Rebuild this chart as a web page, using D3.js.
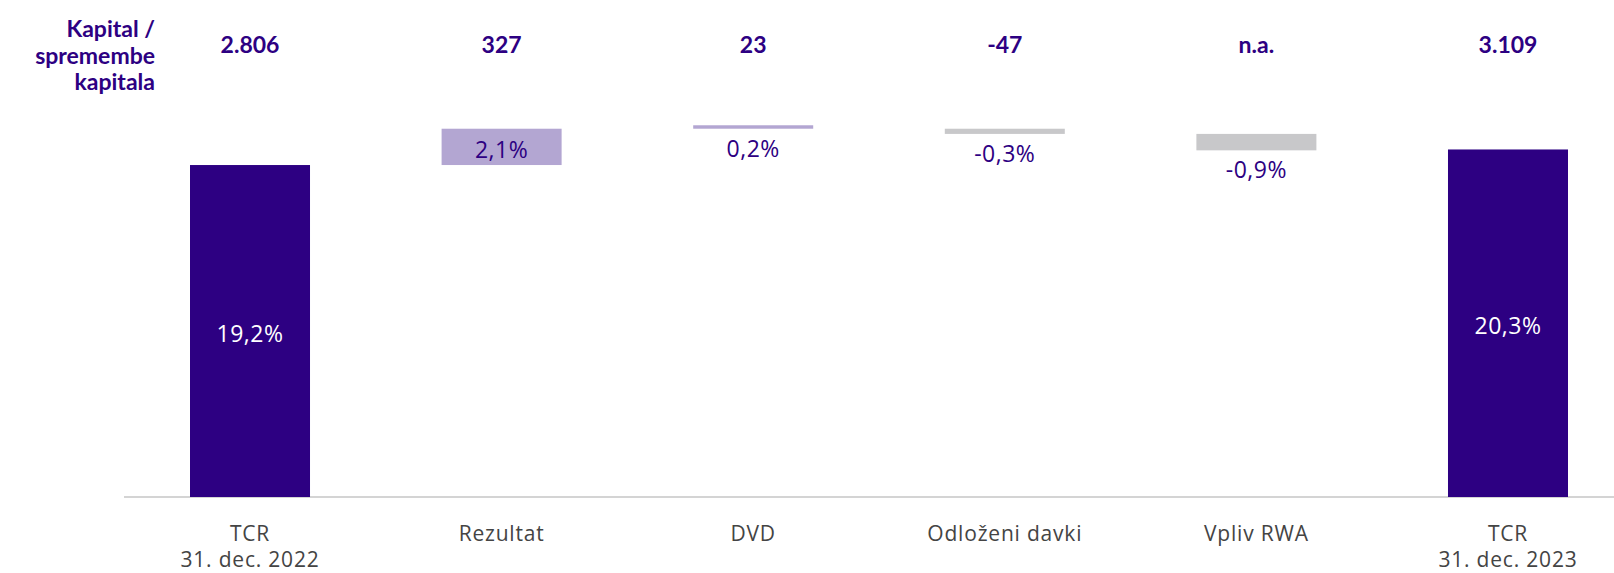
<!DOCTYPE html>
<html>
<head>
<meta charset="utf-8">
<script src="https://cdn.jsdelivr.net/npm/d3@7"></script>
<style>
  body { margin: 0; background: #fff; }
  svg { display: block; font-family: Lato, "Noto Sans", sans-serif; }
</style>
</head>
<body>
<div id="container"></div>
<script>
const width = 1614, height = 573;

// categories (line breaks with \n)
const categories = ["TCR\n31. dec. 2022", "Rezultat", "DVD", "Odloženi davki", "Vpliv RWA", "TCR\n31. dec. 2023"];
// capital / changes in capital (header row)
const capitalValues = ["2.806", "327", "23", "-47", "n.a.", "3.109"];
// TCR labels
const pctLabels = ["19,2%", "2,1%", "0,2%", "-0,3%", "-0,9%", "20,3%"];
// bar extents in % as drawn
const barFrom = [0, 19.2, 21.3, 21.3, 21.0, 0];
const barTo = [19.2, 21.3, 21.5, 21.0, 20.05, 20.1];
const barType = ["total", "up", "up", "down", "down", "total"];

const colors = { total: "#2d0082", up: "#b3a6d2", down: "#c8c8ca" };
const purple = "#2d0082";
const labelFont = "'Open Sans', 'Noto Sans', sans-serif";

const svg = d3.select("#container")
  .append("svg")
  .attr("width", width)
  .attr("height", height);

const x = d3.scaleBand()
  .domain(categories)
  .range([190, 1568])
  .paddingInner(0.523)
  .paddingOuter(0);

const y = d3.scaleLinear()
  .domain([0, 20])
  .range([497, 151.2]);

const bars = categories.map((c, i) => ({
  cat: c,
  lo: Math.min(barFrom[i], barTo[i]),
  hi: Math.max(barFrom[i], barTo[i]),
  type: barType[i],
  pct: pctLabels[i],
  cap: capitalValues[i]
}));

// baseline
svg.append("line")
  .attr("x1", 124).attr("x2", width)
  .attr("y1", y(0)).attr("y2", y(0))
  .attr("stroke", "#d4d4d4")
  .attr("stroke-width", 2);

svg.selectAll(".bar")
  .data(bars)
  .enter()
  .append("rect")
  .attr("class", "bar")
  .attr("x", d => x(d.cat))
  .attr("width", x.bandwidth())
  .attr("y", d => y(d.hi))
  .attr("height", d => y(d.lo) - y(d.hi))
  .attr("fill", d => colors[d.type]);

// percentage labels: inside tall bars, below thin ones
svg.selectAll(".pct")
  .data(bars)
  .enter()
  .append("text")
  .attr("class", "pct")
  .attr("x", d => x(d.cat) + x.bandwidth() / 2)
  .attr("y", d => {
    const h = y(d.lo) - y(d.hi);
    if (h > 30) return (y(d.lo) + y(d.hi)) / 2 + 11;
    return y(d.lo) + 28;
  })
  .attr("text-anchor", "middle")
  .attr("font-family", labelFont)
  .attr("font-size", 23)
  .attr("letter-spacing", 0.5)
  .attr("fill", d => d.type === "total" ? "#fff" : purple)
  .text(d => d.pct);

// header row
svg.selectAll(".cap")
  .data(bars)
  .enter()
  .append("text")
  .attr("class", "cap")
  .attr("x", d => x(d.cat) + x.bandwidth() / 2)
  .attr("y", 53)
  .attr("text-anchor", "middle")
  .attr("font-size", 23)
  .attr("font-weight", 700)
  .attr("fill", purple)
  .text(d => d.cap);

const title = svg.append("text")
  .attr("x", 155)
  .attr("y", 37)
  .attr("text-anchor", "end")
  .attr("font-size", 23)
  .attr("font-weight", 700)
  .attr("fill", purple);
["Kapital /", "spremembe", "kapitala"].forEach((t, i) => {
  title.append("tspan").attr("x", 155).attr("dy", i ? 26.5 : 0).text(t);
});

// category labels
const cat = svg.selectAll(".cat")
  .data(categories)
  .enter()
  .append("text")
  .attr("class", "cat")
  .attr("x", d => x(d) + x.bandwidth() / 2)
  .attr("y", 541)
  .attr("text-anchor", "middle")
  .attr("font-family", labelFont)
  .attr("font-size", 21)
  .attr("letter-spacing", 0.8)
  .attr("fill", "#444");
cat.each(function (d) {
  d.split("\n").forEach((t, i) => {
    d3.select(this).append("tspan")
      .attr("x", x(d) + x.bandwidth() / 2)
      .attr("dy", i ? 26 : 0)
      .text(t);
  });
});
</script>
</body>
</html>
